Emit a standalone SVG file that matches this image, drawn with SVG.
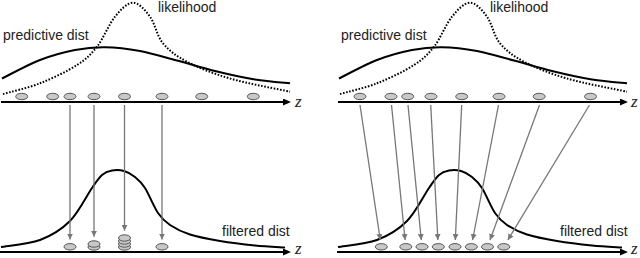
<svg xmlns="http://www.w3.org/2000/svg" width="640" height="258" viewBox="0 0 640 258">
<style>
.lbl{font-family:"Liberation Sans",Arial,sans-serif;font-size:14px;fill:#222}
.zl{font-family:"Liberation Serif","Times New Roman",serif;font-style:italic;font-size:17px;fill:#222}
.axis{stroke:#000;stroke-width:2;fill:none}
.sol{stroke:#000;stroke-width:2;fill:none}
.dot{stroke:#000;stroke-width:2;fill:none;stroke-dasharray:1.6 1.6}
.pt{fill:#c8c8c8;stroke:#555;stroke-width:1}
.con{stroke:#777;stroke-width:1.3;fill:none}
</style>
<defs>
<marker id="axh" viewBox="0 0 8 7" refX="3" refY="3.5" markerWidth="8" markerHeight="7" markerUnits="userSpaceOnUse" orient="auto">
<path d="M0,0 L8,3.5 L0,7 z" fill="#000"/>
</marker>
<marker id="arh" viewBox="0 0 6 6" refX="6" refY="3" markerWidth="6" markerHeight="6" markerUnits="userSpaceOnUse" orient="auto">
<path d="M0,0 L6,3 L0,6 z" fill="#777"/>
</marker>
<path id="pred" d="M2,78.5 C8.3,75.4 27.8,64.75 40,60 C52.2,55.25 64.2,52.1 75,50 C85.8,47.9 94.2,47 105,47.2 C115.8,47.4 128,48.8 140,51 C152,53.2 164.5,57.2 177,60.5 C189.5,63.8 202,67.8 215,71 C228,74.2 242.5,77.5 255,79.5 C267.5,81.5 284.2,82.7 290,83.3"/>
<path id="like" d="M3,94 C9.2,92.2 27.7,88.1 40,83.3 C52.3,78.5 67.5,71.1 77,65 C86.5,58.9 90.7,54.75 97,46.7 C103.3,38.650 109,24.03 115,16.7 C121,9.37 127.2,2.7 133,2.7 C138.8,2.7 145,9.93 150,16.7 C155,23.47 156.8,35.8 163,43.3 C169.2,50.8 175.8,55.8 187,61.7 C198.2,67.6 212.8,73.5 230,78.5 C247.2,83.5 280,89.5 290,91.7"/>
<path id="filt" d="M1,247 C7.5,245.83 28.5,244.33 40,240 C51.5,235.67 61.33,229.67 70,221 C78.67,212.33 86.67,195.67 92,188 C97.33,180.33 98.67,177.92 102,175 C105.33,172.08 108.33,171.17 112,170.5 C115.67,169.83 120.17,169.92 124,171 C127.83,172.08 131.5,174.17 135,177 C138.5,179.83 141.17,182 145,188 C148.83,194 153.83,206.83 158,213 C162.17,219.17 164.67,221.42 170,225 C175.33,228.58 181.67,231.83 190,234.5 C198.33,237.17 209.17,239.17 220,241 C230.83,242.83 244.17,244.42 255,245.5 C265.83,246.58 280,247.17 285,247.5"/>
</defs>

<g id="left-panel">
  <g id="left-curves">
    <use href="#pred" class="sol"/>
    <use href="#like" class="dot"/>
    <use href="#filt" class="sol"/>
  </g>
  <g id="left-axes">
    <line class="axis" x1="1" y1="102" x2="286" y2="102" marker-end="url(#axh)"/>
    <line class="axis" x1="0" y1="252" x2="286" y2="252" marker-end="url(#axh)"/>
  </g>
  <text id="l-like" class="lbl" x="158" y="12">likelihood</text>
  <text id="l-pred" class="lbl" x="3" y="40">predictive dist</text>
  <text id="l-filt" class="lbl" x="222" y="236">filtered dist</text>
  <text id="l-z1" class="zl" x="295" y="106.5">z</text>
  <text id="l-z2" class="zl" x="295" y="254">z</text>
  <g id="left-top-particles">
    <ellipse id="lt1" class="pt" cx="21.7" cy="96.5" rx="6" ry="3.2"/>
    <ellipse id="lt2" class="pt" cx="52.7" cy="96.5" rx="6" ry="3.2"/>
    <ellipse id="lt3" class="pt" cx="70" cy="96.5" rx="6" ry="3.2"/>
    <ellipse id="lt4" class="pt" cx="94" cy="96.5" rx="6" ry="3.2"/>
    <ellipse id="lt5" class="pt" cx="124.5" cy="96.5" rx="6" ry="3.2"/>
    <ellipse id="lt6" class="pt" cx="162" cy="96.5" rx="6" ry="3.2"/>
    <ellipse id="lt7" class="pt" cx="201.7" cy="96.5" rx="6" ry="3.2"/>
    <ellipse id="lt8" class="pt" cx="253.3" cy="96.5" rx="6" ry="3.2"/>
  </g>
  <g id="left-bottom-particles">
    <ellipse id="lb1" class="pt" cx="70" cy="246.8" rx="6" ry="3.2"/>
    <g id="lb2">
      <ellipse class="pt" cx="94" cy="247" rx="6" ry="3.2"/>
      <ellipse class="pt" cx="94" cy="244" rx="6" ry="3.2"/>
    </g>
    <g id="lb3">
      <ellipse class="pt" cx="124.5" cy="247" rx="6" ry="3.2"/>
      <ellipse class="pt" cx="124.5" cy="244" rx="6" ry="3.2"/>
      <ellipse class="pt" cx="124.5" cy="241" rx="6" ry="3.2"/>
      <ellipse class="pt" cx="124.5" cy="238" rx="6" ry="3.2"/>
    </g>
    <ellipse id="lb4" class="pt" cx="162" cy="246.8" rx="6" ry="3.2"/>
  </g>
</g>

<g id="right-panel">
  <g id="right-curves" transform="translate(337,0)">
    <use href="#pred" class="sol"/>
    <use href="#like" class="dot"/>
    <use href="#filt" class="sol"/>
  </g>
  <g id="right-axes">
    <line class="axis" x1="338" y1="102" x2="623" y2="102" marker-end="url(#axh)"/>
    <line class="axis" x1="337" y1="252" x2="623" y2="252" marker-end="url(#axh)"/>
  </g>
  <text id="r-like" class="lbl" x="490" y="12">likelihood</text>
  <text id="r-pred" class="lbl" x="341" y="40">predictive dist</text>
  <text id="r-filt" class="lbl" x="560" y="236">filtered dist</text>
  <text id="r-z1" class="zl" x="631" y="106.5">z</text>
  <text id="r-z2" class="zl" x="631" y="254">z</text>
  <g id="right-top-particles">
    <ellipse id="rt1" class="pt" cx="360" cy="96.5" rx="6" ry="3.2"/>
    <ellipse id="rt2" class="pt" cx="391" cy="96.5" rx="6" ry="3.2"/>
    <ellipse id="rt3" class="pt" cx="407.7" cy="96.5" rx="6" ry="3.2"/>
    <ellipse id="rt4" class="pt" cx="431" cy="96.5" rx="6" ry="3.2"/>
    <ellipse id="rt5" class="pt" cx="461.7" cy="96.5" rx="6" ry="3.2"/>
    <ellipse id="rt6" class="pt" cx="499" cy="96.5" rx="6" ry="3.2"/>
    <ellipse id="rt7" class="pt" cx="539.2" cy="96.5" rx="6" ry="3.2"/>
    <ellipse id="rt8" class="pt" cx="590.5" cy="96.5" rx="6" ry="3.2"/>
  </g>
  <g id="right-bottom-particles">
    <ellipse id="rb1" class="pt" cx="381.3" cy="246.8" rx="6" ry="3.2"/>
    <ellipse id="rb2" class="pt" cx="405.8" cy="246.8" rx="6" ry="3.2"/>
    <ellipse id="rb3" class="pt" cx="422" cy="246.8" rx="6" ry="3.2"/>
    <ellipse id="rb4" class="pt" cx="438.3" cy="246.8" rx="6" ry="3.2"/>
    <ellipse id="rb5" class="pt" cx="455" cy="246.8" rx="6" ry="3.2"/>
    <ellipse id="rb6" class="pt" cx="471.3" cy="246.8" rx="6" ry="3.2"/>
    <ellipse id="rb7" class="pt" cx="487.5" cy="246.8" rx="6" ry="3.2"/>
    <ellipse id="rb8" class="pt" cx="503.8" cy="246.8" rx="6" ry="3.2"/>
  </g>
</g>

<g id="connectors">
  <line class="con" x1="70" y1="105" x2="70" y2="239.5" marker-end="url(#arh)"/>
  <line class="con" x1="94" y1="105" x2="94" y2="236.7" marker-end="url(#arh)"/>
  <line class="con" x1="124.5" y1="105" x2="124.5" y2="230.7" marker-end="url(#arh)"/>
  <line class="con" x1="162" y1="105" x2="162" y2="239.5" marker-end="url(#arh)"/>
  <line class="con" x1="360" y1="105" x2="380.3" y2="240" marker-end="url(#arh)"/>
  <line class="con" x1="391.5" y1="105" x2="405.1" y2="240" marker-end="url(#arh)"/>
  <line class="con" x1="408" y1="105" x2="421.3" y2="240" marker-end="url(#arh)"/>
  <line class="con" x1="430.7" y1="105" x2="437.9" y2="240" marker-end="url(#arh)"/>
  <line class="con" x1="461.7" y1="105" x2="455.3" y2="240" marker-end="url(#arh)"/>
  <line class="con" x1="498.5" y1="105" x2="472.6" y2="240" marker-end="url(#arh)"/>
  <line class="con" x1="539.5" y1="105" x2="490" y2="240" marker-end="url(#arh)"/>
  <line class="con" x1="589.5" y1="105" x2="507.9" y2="240" marker-end="url(#arh)"/>
</g>
</svg>
